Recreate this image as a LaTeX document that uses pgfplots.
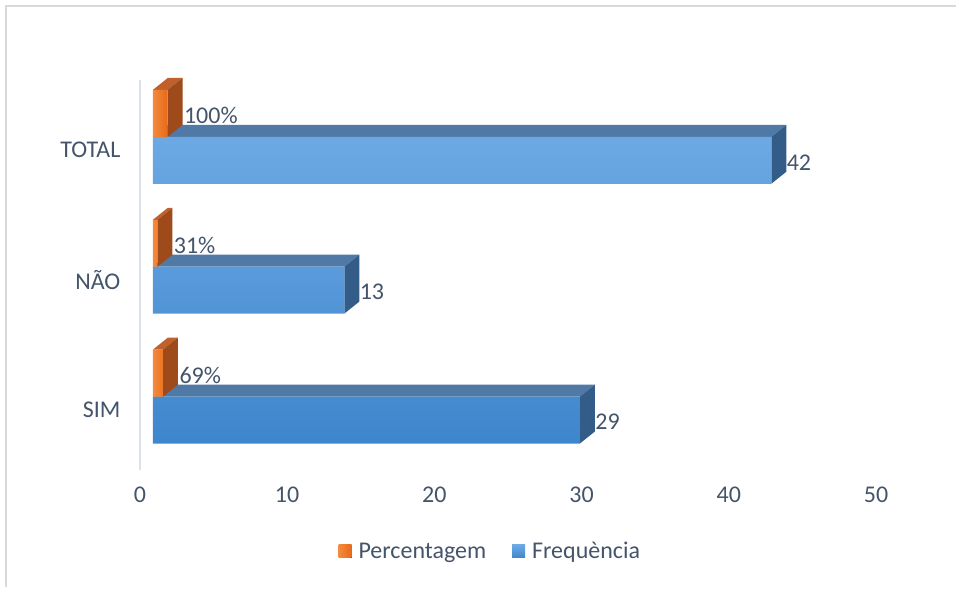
\documentclass[border=0pt]{standalone}
\usepackage{pgfplots}
\pgfplotsset{compat=1.18}
\usepackage{pgfplotstable}
\usepackage{fontspec}
\setmainfont{Carlito}
\definecolor{txt}{HTML}{44546A}
\definecolor{bluefrontT}{HTML}{6CA9E4}
\definecolor{bluefrontB}{HTML}{3E86CD}
\definecolor{bluetop}{HTML}{5079A6}
\definecolor{blueside}{HTML}{345C88}
\definecolor{orfrontT}{HTML}{F58A3E}
\definecolor{orfrontB}{HTML}{E56A17}
\definecolor{ortop}{HTML}{C0602A}
\definecolor{orside}{HTML}{9E4A1A}
\definecolor{gridc}{HTML}{DDE1E8}
\definecolor{borderc}{HTML}{D9D9D9}

\pgfplotstableread{
cat freq pct
0 29 0.69
1 13 0.31
2 42 1.00
}\datatable

\begin{document}
\begin{tikzpicture}[font=\fontsize{24}{28}\selectfont]
\begin{axis}[
  scale only axis,
  width=737pt, height=390pt,
  xmin=0, xmax=50,
  ymin=-0.5615, ymax=2.4385,
  clip=false,
  axis line style={draw=none},
  major tick length=0pt,
  xtick={0,10,20,30,40,50},
  ytick={0,1,2},
  yticklabels={SIM,NÃO,TOTAL},
  xticklabel style={text=txt, yshift=-14pt},
  yticklabel style={text=txt, yshift=-13pt, xshift=-16pt},
  /pgf/number format/assume math mode=true,
  legend columns=2,
  reverse legend,
  legend style={draw=none, fill=none, text=txt, at={(axis description cs:0.476,0)}, anchor=center, yshift=-82pt,
    /tikz/every odd column/.append style={column sep=5pt},
    /tikz/every even column/.append style={column sep=24pt}},
  legend image code/.code={\fill[#1] (0pt,-6.5pt) rectangle (13pt,6.5pt);},
]
% bounding box and decorations
\path ([shift={(-140pt,-118pt)}]rel axis cs:0,0) rectangle ([shift={(80pt,80pt)}]rel axis cs:1,1);
\draw[borderc, line width=2pt] ([shift={(-134pt,-118pt)}]rel axis cs:0,0) -- ([shift={(-134pt,74pt)}]rel axis cs:0,1) -- ([shift={(80pt,74pt)}]rel axis cs:1,1);
\draw[gridc, line width=2pt] (rel axis cs:0,0) -- (rel axis cs:0,1);

% blue bars: top and side faces
\addplot[draw=none, fill=bluetop, xshift=13pt, forget plot] coordinates {(0,0) (29,0) (30.018,0.0923) (1.018,0.0923)} -- cycle;
\addplot[draw=none, fill=blueside, xshift=13pt, forget plot] coordinates {(29,0) (29,-0.3615) (30.018,-0.2692) (30.018,0.0923)} -- cycle;
\addplot[draw=none, fill=bluetop, xshift=13pt, forget plot] coordinates {(0,1) (13,1) (14.018,1.0923) (1.018,1.0923)} -- cycle;
\addplot[draw=none, fill=blueside, xshift=13pt, forget plot] coordinates {(13,1) (13,0.6385) (14.018,0.7308) (14.018,1.0923)} -- cycle;
\addplot[draw=none, fill=bluetop, xshift=13pt, forget plot] coordinates {(0,2) (42,2) (43.018,2.0923) (1.018,2.0923)} -- cycle;
\addplot[draw=none, fill=blueside, xshift=13pt, forget plot] coordinates {(42,2) (42,1.6385) (43.018,1.7308) (43.018,2.0923)} -- cycle;

% blue front faces (Frequencia)
\addplot[xbar, bar width=47pt, bar shift=-23.5pt, draw=none, top color=bluefrontT, bottom color=bluefrontB, xshift=13pt,
  nodes near coords, point meta=x,
  every node near coord/.append style={text=txt, anchor=west, xshift=12pt, yshift=-25.5pt}]
  table[x=freq, y=cat] {\datatable};
\addlegendentry{Frequència}

% orange bars: top and side faces
\addplot[draw=none, fill=ortop, xshift=13pt, forget plot] coordinates {(0,0.3615) (0.69,0.3615) (1.708,0.4538) (1.018,0.4538)} -- cycle;
\addplot[draw=none, fill=orside, xshift=13pt, forget plot] coordinates {(0.69,0.3615) (0.69,0) (1.708,0.0923) (1.708,0.4538)} -- cycle;
\addplot[draw=none, fill=ortop, xshift=13pt, forget plot] coordinates {(0,1.3615) (0.31,1.3615) (1.328,1.4538) (1.018,1.4538)} -- cycle;
\addplot[draw=none, fill=orside, xshift=13pt, forget plot] coordinates {(0.31,1.3615) (0.31,1) (1.328,1.0923) (1.328,1.4538)} -- cycle;
\addplot[draw=none, fill=ortop, xshift=13pt, forget plot] coordinates {(0,2.3615) (1,2.3615) (2.018,2.4538) (1.018,2.4538)} -- cycle;
\addplot[draw=none, fill=orside, xshift=13pt, forget plot] coordinates {(1,2.3615) (1,2) (2.018,2.0923) (2.018,2.4538)} -- cycle;

% orange front faces (Percentagem)
\addplot[xbar, bar width=47pt, bar shift=23.5pt, draw=none, left color=orfrontT, right color=orfrontB, xshift=13pt,
  point meta={x*100},
  nodes near coords={\pgfmathprintnumber[fixed,precision=0]{\pgfplotspointmeta}\%},
  every node near coord/.append style={text=txt, anchor=west, xshift=13pt, yshift=21.5pt}]
  table[x=pct, y=cat] {\datatable};
\addlegendentry{Percentagem}
\end{axis}
\end{tikzpicture}
\end{document}
